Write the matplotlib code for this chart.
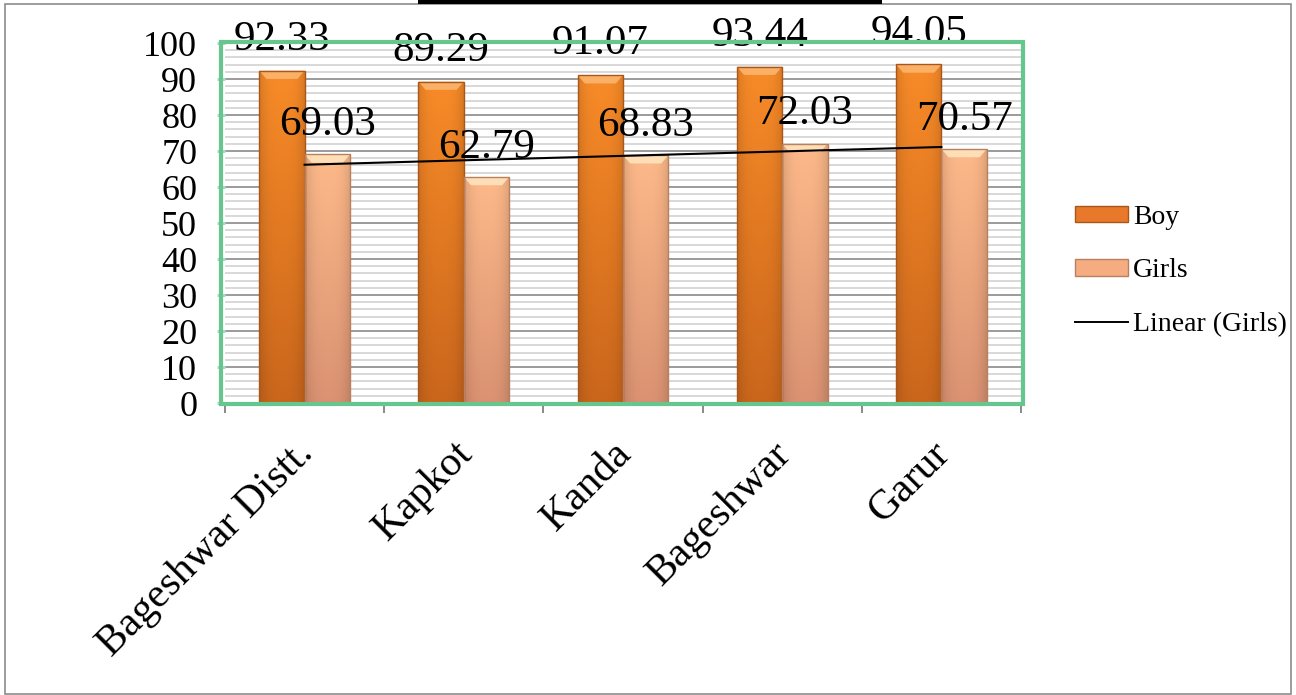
import numpy as np
import matplotlib
matplotlib.use("Agg")
import matplotlib.pyplot as plt
from matplotlib.patches import Rectangle, Polygon, Patch
from matplotlib.lines import Line2D
from matplotlib.colors import to_rgb
from matplotlib.transforms import ScaledTranslation

categories = ["Bageshwar Distt.", "Kapkot", "Kanda", "Bageshwar", "Garur"]
boy = [92.33, 89.29, 91.07, 93.44, 94.05]
girls = [69.03, 62.79, 68.83, 72.03, 70.57]
boy_labels = ["92.33", "89.29", "91.07", "93.44", "94.05"]
girls_labels = ["69.03", "62.79", "68.83", "72.03", "70.57"]
yticks = [0, 10, 20, 30, 40, 50, 60, 70, 80, 90, 100]

plt.rcParams['font.family'] = ['Liberation Serif', 'DejaVu Serif']

W, H = 1296, 695
fig = plt.figure(figsize=(W / 100, H / 100), dpi=100)
ax = fig.add_axes([225 / W, 1 - 403 / H, (1021 - 225) / W, (403 - 43) / H])

x = np.arange(len(categories))
bw = 0.285

def gradient_bar(ax, x0, h, w, top, bottom, edge, bevel):
    top = np.array(to_rgb(top)); bottom = np.array(to_rgb(bottom))
    ny, nx = 64, 32
    t = np.linspace(0, 1, ny)[:, None, None]  # 0 at top
    col = top * (1 - t) + bottom * t
    xs = np.linspace(-1, 1, nx)[None, :, None]
    shade = 1 - 0.12 * np.abs(xs) ** 3
    img = np.clip(col * shade, 0, 1)
    rect = Rectangle((x0, 0), w, h, facecolor='none', edgecolor=edge, lw=1.0, zorder=3)
    ax.add_patch(rect)
    im = ax.imshow(img, extent=[x0, x0 + w, 0, h], aspect='auto', zorder=2,
                   interpolation='bilinear')
    im.set_clip_path(rect)
    dh, dx = 2.3, 0.045
    poly = Polygon([[x0, h], [x0 + w, h], [x0 + w - dx, h - dh], [x0 + dx, h - dh]],
                   closed=True, facecolor=bevel, edgecolor='none', zorder=2.5, alpha=0.9)
    ax.add_patch(poly)

boy_top, boy_bot, boy_edge, boy_bev = '#F88B28', '#CA661C', '#A9561A', '#FBB56E'
g_top, g_bot, g_edge, g_bev = '#FDB989', '#DA9272', '#B9805F', '#FFE3BC'

for i in range(len(categories)):
    gradient_bar(ax, x[i] - bw, boy[i], bw, boy_top, boy_bot, boy_edge, boy_bev)
    gradient_bar(ax, x[i], girls[i], bw, g_top, g_bot, g_edge, g_bev)

# data labels
for i in range(len(categories)):
    ax.annotate(boy_labels[i], (x[i] - bw / 2, boy[i]), xytext=(0, 15),
                textcoords='offset points', ha='center', va='baseline',
                fontsize=31, zorder=6, annotation_clip=False)
    ax.annotate(girls_labels[i], (x[i] + bw / 2, girls[i]), xytext=(0, 14),
                textcoords='offset points', ha='center', va='baseline',
                fontsize=31, zorder=6, annotation_clip=False)

# linear trendline for girls
coef = np.polyfit(x, girls, 1)
ax.plot(x, np.polyval(coef, x), color='black', lw=1.5, zorder=5)

ax.set_xlim(-0.5, len(categories) - 0.5)
ax.set_ylim(0, 100)

# grid
ax.set_yticks(yticks)
ax.set_yticks(np.arange(0, 101, 2), minor=True)
ax.grid(which='minor', axis='y', color='#d2d2d2', lw=1.2, zorder=0)
ax.grid(which='major', axis='y', color='#8a8a8a', lw=1.2, zorder=0.5)
ax.set_axisbelow(True)

ax.tick_params(axis='y', which='major', labelsize=26, length=6, width=2.2,
               color='#A9DDBD', pad=14, direction='out')
ax.tick_params(axis='y', which='minor', length=0)

ax.set_xticks(x)
ax.set_xticklabels(categories, rotation=45, ha='right', rotation_mode='anchor', fontsize=30)
ax.set_xticks(np.arange(-0.5, len(categories), 1), minor=True)
ax.tick_params(axis='x', which='major', length=0, pad=24)
ax.tick_params(axis='x', which='minor', length=7.5, width=1.4, color='#8a8a8a')
shift = ScaledTranslation(-11 / 100, 2 / 100, fig.dpi_scale_trans)
for lab in ax.get_xticklabels():
    lab.set_va('top')
    lab.set_transform(lab.get_transform() + shift)

for s in ax.spines.values():
    s.set_visible(False)
ax.axhline(0, color='#8a8a8a', lw=1.2, zorder=4)

# green plot-area frame
fig.patches.append(Rectangle((221 / W, 1 - 404 / H), (1023 - 221) / W, (404 - 42) / H,
                             transform=fig.transFigure, fill=False,
                             edgecolor='#66C68E', lw=3, zorder=10))

# outer frame and top bar
fig.patches.append(Rectangle((5 / W, 1 / H), (1291 - 5) / W, (690) / H,
                             transform=fig.transFigure, fill=False,
                             edgecolor='#8c8c8c', lw=1.2, zorder=0))
fig.patches.append(Rectangle((418 / W, 1 - 4 / H), (882 - 418) / W, 4 / H,
                             transform=fig.transFigure, facecolor='black',
                             edgecolor='none', zorder=11))

handles = [Patch(facecolor='#E8792A', edgecolor=boy_edge, label='Boy'),
           Patch(facecolor='#F4AC80', edgecolor=g_edge, label='Girls'),
           Line2D([0], [0], color='black', lw=1.4, label='Linear (Girls)')]
fig.legend(handles=handles, loc='center left',
           bbox_to_anchor=(1075 / W, 1 - 271 / H), bbox_transform=fig.transFigure,
           frameon=False, fontsize=20, handlelength=1.9, handleheight=0.55,
           handletextpad=0.2, labelspacing=1.03, borderpad=0, borderaxespad=0)

fig.savefig('out.png', dpi=100)
